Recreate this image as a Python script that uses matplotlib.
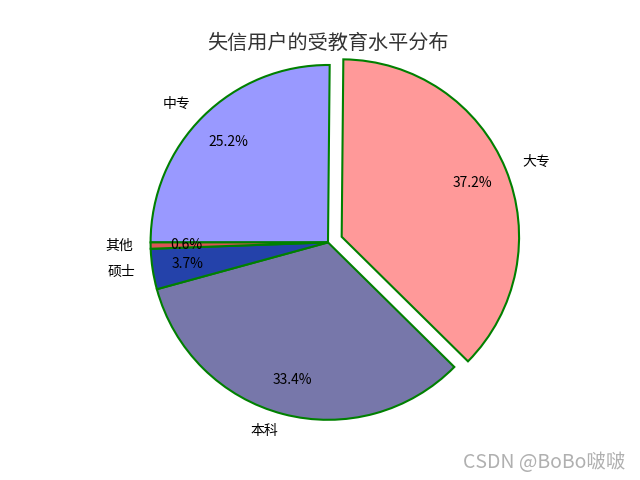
import matplotlib
matplotlib.use('Agg')
import matplotlib.pyplot as plt

plt.rcParams['font.family'] = ['Noto Sans CJK SC', 'DejaVu Sans']
plt.rcParams['axes.unicode_minus'] = False

# 受教育水平占比
edu = [0.2515, 0.3724, 0.3336, 0.0368, 0.0057]
labels = ['中专', '大专', '本科', '硕士', '其他']
explode = [0, 0.1, 0, 0, 0]
colors = ['#9999ff', '#ff9999', '#7777aa', '#2442aa', '#dd5555']

fig = plt.figure(figsize=(6.4, 4.8), dpi=100)
plt.pie(x=edu, explode=explode, labels=labels, colors=colors,
        autopct='%.1f%%', pctdistance=0.8, labeldistance=1.1,
        startangle=180, radius=1.2, counterclock=False,
        wedgeprops={'linewidth': 1.5, 'edgecolor': 'green'},
        textprops={'fontsize': 10, 'color': 'black'})
plt.title('失信用户的受教育水平分布', fontsize=14.5, color='#333333')
fig.text(0.977, 0.024, 'CSDN @BoBo啵啵', ha='right', va='baseline',
         fontsize=14, color='#b0b0b0')
plt.savefig('out.png')
